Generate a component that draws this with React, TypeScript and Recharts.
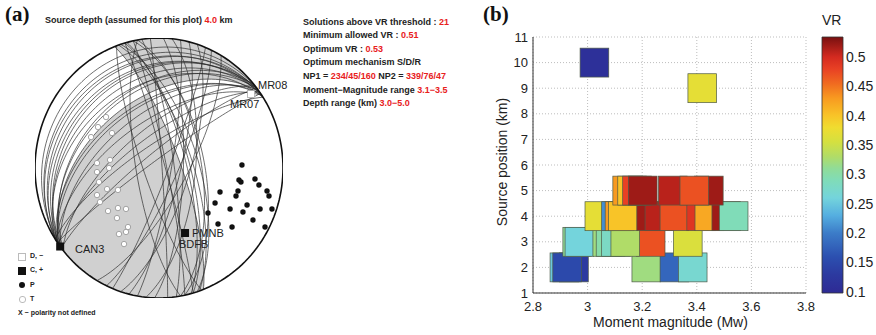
import React from 'react';
import { ScatterChart, Scatter, XAxis, YAxis, CartesianGrid, ReferenceArea } from 'recharts';

// ---------- panel (a): nodal planes of the 21 accepted solutions ----------
const np1Strike = [234, 232, 235, 233, 236, 231, 234, 237, 232, 235, 233, 236, 231, 234, 237, 232, 235, 230, 238, 233, 236];
const np1Dip = [45, 10, 15, 20, 24, 28, 32, 36, 40, 50, 55, 60, 65, 70, 75, 80, 85, 38, 18, 26, 48];
const np2Strike = [339, 345, 352, 341, 2, 10, 18, 25, 342, 348, 348, 356, 6, 14, 22, 30, 344, 344, 350, 160, 170];
const np2Dip = [76, 72, 80, 68, 74, 82, 70, 78, 64, 85, 60, 88, 66, 76, 84, 72, 70, 86, 62, 80, 75];

// optimum mechanism NP1 / NP2 (strike, dip)
const optStrike = [234, 339];
const optDip = [45, 76];

// polarities, in projection units (circle radius = 1)
const pDotX = [0.669, 0.645, 0.661, 0.774, 0.806, 0.871, 0.887, 0.492, 0.637, 0.621, 0.452, 0.71, 0.815, 0.911, 0.573, 0.677, 0.395, 0.758, 0.476, 0.589, 0.855];
const pDotY = [0.023, -0.092, -0.108, -0.085, -0.131, -0.177, -0.215, -0.185, -0.177, -0.215, -0.269, -0.285, -0.315, -0.315, -0.315, -0.338, -0.346, -0.4, -0.431, -0.454, -0.454];
const tDotX = [-0.427, -0.492, -0.379, -0.548, -0.5, -0.395, -0.5, -0.403, -0.484, -0.419, -0.331, -0.5, -0.476, -0.411, -0.331, -0.266, -0.339, -0.25, -0.266, -0.323, -0.282];
const tDotY = [0.392, 0.315, 0.269, 0.238, 0.038, 0.062, -0.031, 0, -0.108, -0.162, -0.169, -0.208, -0.262, -0.331, -0.308, -0.315, -0.385, -0.454, -0.492, -0.508, -0.585];

const stationX = [-0.797, 0.21, 0.742];
const stationY = [-0.604, -0.5, 0.569];
const stationPol = ['C', 'C', 'D'];

// ---------- panel (b): grid search ----------
const xTicks = [2.8, 3, 3.2, 3.4, 3.6, 3.8];
const yTicks = [1, 2, 3, 4, 5, 6, 7, 8, 9, 10, 11];
const vrTicks = [0.1, 0.15, 0.2, 0.25, 0.3, 0.35, 0.4, 0.45, 0.5];
const vrRange = [0.098, 0.534];

const squareMw = [
  2.915, 2.95, 2.925, 3.215, 3.318, 3.385,
  2.962, 2.97, 3.072, 3.084, 3.104, 3.231, 3.138, 3.367,
  3.043, 3.104, 3.117, 3.129, 3.233, 3.263, 3.318, 3.416, 3.446, 3.508, 3.535,
  3.145, 3.163, 3.181, 3.202, 3.312, 3.444, 3.391,
  3.42, 3.025,
];
const squareDepth = [
  2, 2, 2, 2, 2, 2,
  3, 3, 3, 3, 3, 3, 3, 3,
  4, 4, 4, 4, 4, 4, 4, 4, 4, 4, 4,
  5, 5, 5, 5, 5, 5, 5,
  9, 10,
];
const squareVr = [
  0.25, 0.13, 0.15, 0.32, 0.18, 0.27,
  0.31, 0.26, 0.32, 0.3, 0.28, 0.47, 0.33, 0.36,
  0.37, 0.21, 0.43, 0.4, 0.52, 0.51, 0.47, 0.49, 0.42, 0.52, 0.29,
  0.43, 0.4, 0.48, 0.52, 0.51, 0.52, 0.47,
  0.37, 0.11,
];

const cmapVr = [0.098, 0.13, 0.16, 0.2, 0.23, 0.26, 0.29, 0.31, 0.33, 0.355, 0.38, 0.4, 0.43, 0.455, 0.48, 0.5, 0.534];
const cmapColor = ['#2e2a94', '#2c3aa0', '#2c50b0', '#3c7cc8', '#55aee0', '#74d4dc', '#80dcb8', '#90dc98', '#b0dc68', '#d4e040', '#f0dc30', '#f8c428', '#f89a20', '#f06a20', '#e84024', '#d42a20', '#781010'];

const FONT = '"Liberation Sans", Arial, sans-serif';
const RED = '#e8201c';
const MINUS = '\u2212';

// ---------- helpers ----------
type V3 = [number, number, number];
const rad = (d: number) => (d * Math.PI) / 180;
const cross = (a: V3, b: V3): V3 => [a[1] * b[2] - a[2] * b[1], a[2] * b[0] - a[0] * b[2], a[0] * b[1] - a[1] * b[0]];
const dot = (a: V3, b: V3) => a[0] * b[0] + a[1] * b[1] + a[2] * b[2];

// strike and down-dip unit vectors, [north, east, down]
function planeBasis(strike: number, dip: number): [V3, V3] {
  const s = rad(strike), d = rad(dip);
  return [
    [Math.cos(s), Math.sin(s), 0],
    [-Math.sin(s) * Math.cos(d), Math.cos(s) * Math.cos(d), Math.sin(d)],
  ];
}

// lower hemisphere, equal area
const project = (v: V3) => {
  const k = 1 / Math.sqrt(1 + Math.max(v[2], 0));
  return { x: v[1] * k, y: v[0] * k };
};

function greatCircle(strike: number, dip: number, t0 = 0, t1 = 180, n = 72) {
  const [s, d] = planeBasis(strike, dip);
  const pts = [];
  for (let i = 0; i <= n; i++) {
    const t = rad(t0 + ((t1 - t0) * i) / n);
    const c = Math.cos(t), si = Math.sin(t);
    pts.push(project([s[0] * c + d[0] * si, s[1] * c + d[1] * si, s[2] * c + d[2] * si]));
  }
  return pts;
}

function primitive(a0: number, a1: number, n = 60) {
  const pts = [];
  for (let i = 0; i <= n; i++) {
    const a = rad(a0 + ((a1 - a0) * i) / n);
    pts.push({ x: Math.sin(a), y: Math.cos(a) });
  }
  return pts;
}

function jet(v: number) {
  let i = 0;
  while (i < cmapVr.length - 2 && v > cmapVr[i + 1]) i++;
  const f = Math.min(1, Math.max(0, (v - cmapVr[i]) / (cmapVr[i + 1] - cmapVr[i])));
  const a = cmapColor[i], b = cmapColor[i + 1];
  const ch = (c: string, k: number) => parseInt(c.slice(1 + 2 * k, 3 + 2 * k), 16);
  const out = [0, 1, 2].map((k) => Math.round(ch(a, k) + (ch(b, k) - ch(a, k)) * f));
  return `rgb(${out.join(',')})`;
}

// compressional quadrants of the optimum solution
const [s1, d1] = planeBasis(optStrike[0], optDip[0]);
const [s2, d2] = planeBasis(optStrike[1], optDip[1]);
let bAxis = cross(cross(s1, d1), cross(s2, d2));
if (bAxis[2] < 0) bAxis = [-bAxis[0], -bAxis[1], -bAxis[2]];
const tB1 = (Math.atan2(dot(bAxis, d1), dot(bAxis, s1)) * 180) / Math.PI;
const tB2 = (Math.atan2(dot(bAxis, d2), dot(bAxis, s2)) * 180) / Math.PI;

const grayA = [
  ...greatCircle(optStrike[0], optDip[0], 0, tB1),
  ...greatCircle(optStrike[1], optDip[1], tB2, 180),
  ...primitive((optStrike[1] + 180) % 360, optStrike[0]),
];
const grayB = [
  ...greatCircle(optStrike[0], optDip[0], tB1, 180),
  ...primitive((optStrike[0] + 180) % 360, optStrike[1] - 360),
  ...greatCircle(optStrike[1], optDip[1], 0, tB2),
];

const nodalLines = [
  ...np1Strike.map((s, i) => greatCircle(s, np1Dip[i])),
  ...np2Strike.map((s, i) => greatCircle(s, np2Dip[i])),
];
const outline = primitive(0, 360, 180);

const pDots = pDotX.map((x, i) => ({ x, y: pDotY[i] }));
const tDots = tDotX.map((x, i) => ({ x, y: tDotY[i] }));
const stations = stationX.map((x, i) => ({ x, y: stationY[i], pol: stationPol[i] }));

const squares = squareMw.map((mw, i) => ({ mw, depth: squareDepth[i], vr: squareVr[i] }));

// colorbar stops, top (high VR) to bottom
const barStops = cmapVr
  .map((v, i) => ({ offset: (vrRange[1] - v) / (vrRange[1] - vrRange[0]), color: cmapColor[i] }))
  .reverse();

const hidden = () => <g />;
const fillPath = (p: any) => (
  <path
    d={'M' + p.points.map((q: any) => `${q.x},${q.y}`).join('L') + 'Z'}
    fill="#d0d0d0"
    stroke="none"
  />
);

// panel b plot size (px) -> square size in data units
const PLOT_W = 273;
const PLOT_H = 256;
const SQ_W = (0.105 / 1.0) * PLOT_W;
const SQ_H = (1.13 / 10) * PLOT_H;
const Square = (p: any) => (
  <rect
    x={p.cx - SQ_W / 2}
    y={p.cy - SQ_H / 2}
    width={SQ_W}
    height={SQ_H}
    fill={jet(p.payload.vr)}
    stroke="#4e5a48"
    strokeWidth={0.7}
  />
);

const txt = (left: number, top: number, size: number, extra: React.CSSProperties = {}): React.CSSProperties => ({
  position: 'absolute',
  left,
  top,
  fontSize: size,
  lineHeight: `${size + 3}px`,
  whiteSpace: 'nowrap',
  color: '#222',
  fontFamily: FONT,
  ...extra,
});

const infoLines: [string, string][] = [
  ['Solutions above VR threshold : ', '21'],
  ['Minimum allowed VR : ', '0.51'],
  ['Optimum VR : ', '0.53'],
  ['Optimum mechanism S/D/R', ''],
  ['NP1 = ', '234/45/160'],
  [`Moment${MINUS}Magnitude range `, `3.1${MINUS}3.5`],
  ['Depth range (km) ', `3.0${MINUS}5.0`],
];
const infoTop = [16, 29, 43, 56, 70, 84, 97];

export default function App() {
  return (
    <div style={{ position: 'absolute', left: 0, top: 0, width: 876, height: 335, background: '#fff', fontFamily: FONT }}>
      {/* ----- (a) ----- */}
      <div style={{ position: 'absolute', left: 0, top: 0 }}>
        <ScatterChart width={300} height={320} margin={{ top: 38, right: 17, bottom: 22, left: 35 }}>
          <XAxis type="number" dataKey="x" domain={[-1, 1]} hide allowDataOverflow />
          <YAxis type="number" dataKey="y" domain={[-1, 1]} hide allowDataOverflow />
          <Scatter data={grayA} shape={hidden} line={fillPath} lineType="joint" isAnimationActive={false} />
          <Scatter data={grayB} shape={hidden} line={fillPath} lineType="joint" isAnimationActive={false} />
          {nodalLines.map((pts, i) => (
            <Scatter
              key={i}
              data={pts}
              shape={hidden}
              line={{ stroke: '#2a2a2a', strokeWidth: 0.8, strokeOpacity: 0.85 }}
              lineType="joint"
              isAnimationActive={false}
            />
          ))}
          <Scatter data={outline} shape={hidden} line={{ stroke: '#111', strokeWidth: 1.6 }} lineType="joint" isAnimationActive={false} />
          <Scatter
            data={tDots}
            isAnimationActive={false}
            shape={(p: any) => <circle cx={p.cx} cy={p.cy} r={2.7} fill="#fff" stroke="#9a9a9a" strokeWidth={0.9} />}
          />
          <Scatter
            data={pDots}
            isAnimationActive={false}
            shape={(p: any) => <circle cx={p.cx} cy={p.cy} r={2.7} fill="#111" />}
          />
          <Scatter
            data={stations}
            isAnimationActive={false}
            shape={(p: any) =>
              p.payload.pol === 'C' ? (
                <rect x={p.cx - 4} y={p.cy - 4} width={8} height={8} fill="#111" />
              ) : (
                <rect x={p.cx - 3.5} y={p.cy - 3.5} width={7} height={7} fill="#fff" stroke="#aaa" strokeWidth={0.8} />
              )
            }
          />
        </ScatterChart>
      </div>

      <div style={txt(5, 2, 21, { fontFamily: '"Liberation Serif", "Times New Roman", serif', fontWeight: 700, color: '#111' })}>(a)</div>
      <div style={txt(45, 14, 9, { fontWeight: 700 })}>
        Source depth (assumed for this plot) <span style={{ color: RED }}>4.0</span> km
      </div>

      {infoLines.map(([a, b], i) => (
        <div key={i} style={txt(303, infoTop[i], 9, { fontWeight: 700 })}>
          {a}
          <span style={{ color: RED }}>{b}</span>
          {i === 4 ? (
            <>
              {' NP2 = '}
              <span style={{ color: RED }}>339/76/47</span>
            </>
          ) : null}
        </div>
      ))}

      <div style={txt(75, 242, 11)}>CAN3</div>
      <div style={txt(192, 226, 11)}>PMNB</div>
      <div style={txt(179, 237, 11)}>BDFB</div>
      <div style={txt(258, 78, 11)}>MR08</div>
      <div style={txt(230, 97, 11)}>MR07</div>

      {/* legend (a) */}
      <div style={{ position: 'absolute', left: 18, top: 253, width: 6, height: 6, border: '1px solid #bbb', background: '#fff' }} />
      <div style={txt(30, 251, 7, { fontWeight: 700 })}>{`D, ${MINUS}`}</div>
      <div style={{ position: 'absolute', left: 18, top: 267, width: 8, height: 8, background: '#111' }} />
      <div style={txt(30, 265, 7, { fontWeight: 700 })}>C, +</div>
      <div style={{ position: 'absolute', left: 19, top: 282, width: 6, height: 6, borderRadius: 3, background: '#111' }} />
      <div style={txt(30, 280, 7, { fontWeight: 700 })}>P</div>
      <div style={{ position: 'absolute', left: 19, top: 296, width: 5, height: 5, borderRadius: 3, border: '1px solid #bbb', background: '#fff' }} />
      <div style={txt(30, 294, 7, { fontWeight: 700 })}>T</div>
      <div style={txt(18, 308, 7, { fontWeight: 700 })}>{`X ${MINUS} polarity not defined`}</div>

      {/* ----- (b) ----- */}
      <div style={txt(483, 2, 21, { fontFamily: '"Liberation Serif", "Times New Roman", serif', fontWeight: 700, color: '#111' })}>(b)</div>
      <div style={{ position: 'absolute', left: 480, top: 0 }}>
        <ScatterChart width={340} height={335} margin={{ top: 37, right: 14, bottom: 20, left: 23 }}>
          <CartesianGrid stroke="#bdbdbd" strokeDasharray="1 2" />
          <XAxis
            type="number"
            dataKey="mw"
            domain={[2.8, 3.8]}
            ticks={xTicks}
            interval={0}
            allowDataOverflow
            height={22}
            tickLine={false}
            tickSize={8}
            tickMargin={1}
            axisLine={{ stroke: '#333' }}
            tick={{ fontSize: 13, fill: '#222', fontFamily: FONT }}
          />
          <YAxis
            type="number"
            dataKey="depth"
            domain={[1, 11]}
            ticks={yTicks}
            interval={0}
            allowDataOverflow
            width={30}
            tickLine={false}
            tickSize={4}
            tickMargin={1}
            axisLine={{ stroke: '#333' }}
            tick={{ fontSize: 13, fill: '#222', fontFamily: FONT }}
          />
          <Scatter data={squares} shape={Square} isAnimationActive={false} />
        </ScatterChart>
      </div>
      <div style={txt(593, 314, 14)}>Moment magnitude (Mw)</div>
      <div style={txt(502, 162, 14, { transform: 'translate(-50%, -50%) rotate(-90deg)' })}>Source position (km)</div>

      {/* colorbar */}
      <div style={txt(822, 12, 14)}>VR</div>
      <div style={{ position: 'absolute', left: 815, top: 0 }}>
        <ScatterChart width={61} height={335} margin={{ top: 37, right: 0, bottom: 42, left: 7 }}>
          <defs>
            <linearGradient id="vrJet" x1="0" y1="0" x2="0" y2="1">
              {barStops.map((s, i) => (
                <stop key={i} offset={s.offset} stopColor={s.color} />
              ))}
            </linearGradient>
          </defs>
          <XAxis type="number" dataKey="x" domain={[0, 1]} hide allowDataOverflow />
          <YAxis
            type="number"
            dataKey="v"
            orientation="right"
            domain={vrRange}
            ticks={vrTicks}
            interval={0}
            allowDataOverflow
            width={33}
            tickLine={false}
            tickSize={2}
            tickMargin={1}
            axisLine={false}
            tick={{ fontSize: 14, fill: '#222', fontFamily: FONT }}
          />
          <ReferenceArea
            x1={0}
            x2={1}
            y1={vrRange[0]}
            y2={vrRange[1]}
            fill="url(#vrJet)"
            fillOpacity={1}
            stroke="#333"
            strokeWidth={0.8}
            ifOverflow="visible"
          />
          <Scatter data={[]} isAnimationActive={false} />
        </ScatterChart>
      </div>
    </div>
  );
}
